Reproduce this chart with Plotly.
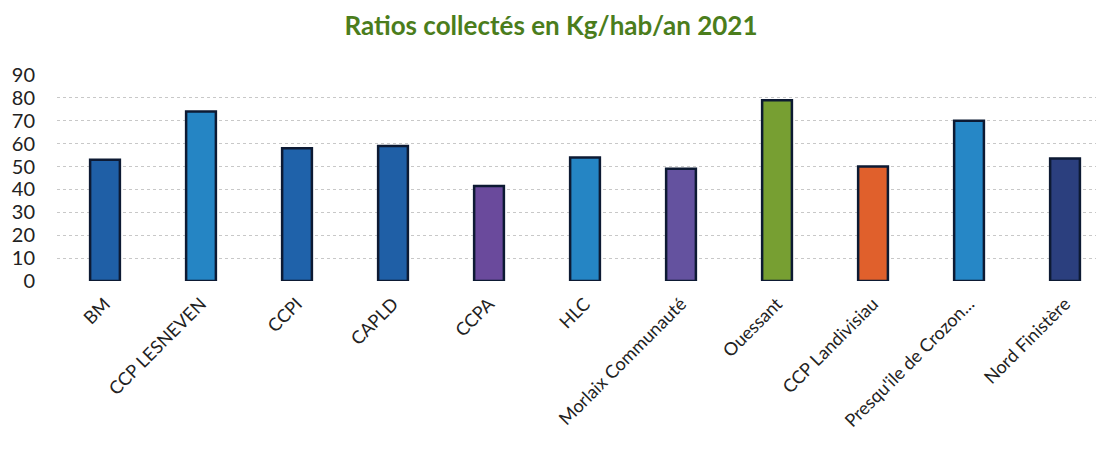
import plotly.graph_objects as go

categories = ["BM", "CCP LESNEVEN", "CCPI", "CAPLD", "CCPA", "HLC",
              "Morlaix Communauté", "Ouessant", "CCP Landivisiau",
              "Presqu'ile de Crozon...", "Nord Finistère"]
values = [53, 74, 58, 59, 41.5, 54, 49, 79, 50, 70, 53.5]
bar_colors = ["#1f5fa6", "#2585c4", "#1f62aa", "#1f5fa6", "#6a4a9c", "#2585c4",
              "#64529f", "#779f32", "#e0602c", "#2687c6", "#2b3f7e"]
y_ticks = [0, 10, 20, 30, 40, 50, 60, 70, 80, 90]

fig = go.Figure(go.Bar(
    x=categories, y=values,
    marker=dict(color=bar_colors, line=dict(color="#0d1a33", width=2.5)),
    width=0.31,
))

# page body has an 8px default margin, so the figure is sized to fit the window
fig.update_layout(
    width=1096, height=447,
    margin=dict(l=49, r=0, t=67, b=174),
    paper_bgcolor="white", plot_bgcolor="white",
    showlegend=False,
    title=dict(text="<b>Ratios collectés en Kg/hab/an 2021</b>",
               x=0.4954, xanchor="center", y=0.96, yanchor="middle",
               font=dict(family="Lato, Open Sans, sans-serif", size=26, color="#4b7d1c")),
    font=dict(family="Lato, Open Sans, sans-serif", color="#222"),
)
fig.update_xaxes(
    type="category", range=[-0.5, 10.406], tickangle=-45,
    tickfont=dict(size=18, color="#222"), showgrid=False,
    showline=False, zeroline=False, ticks="", automargin=False,
    ticklabelstandoff=8,
)
fig.update_yaxes(
    range=[0, 90], tickvals=y_ticks, tickfont=dict(size=20, color="#222"),
    showgrid=True, gridcolor="#c8c8c8", griddash="dot", gridwidth=1,
    zeroline=False, showline=False, ticklabelstandoff=21, automargin=False,
)

fig.write_html("out.html")
